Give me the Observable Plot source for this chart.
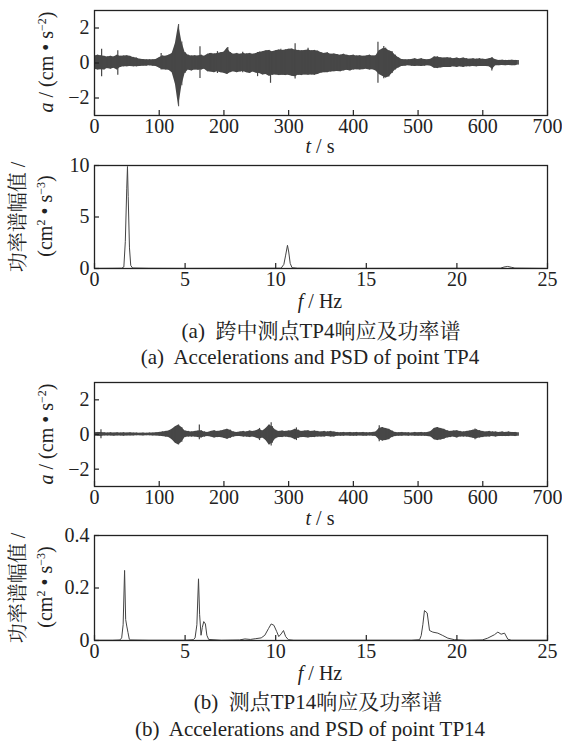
<!DOCTYPE html>
<html><head><meta charset="utf-8">
<script src="https://cdn.jsdelivr.net/npm/d3@7"></script>
<script src="https://cdn.jsdelivr.net/npm/@observablehq/plot@0.6"></script>
<style>
body{margin:0;background:#fff;}
#root{position:relative;width:562px;height:742px;overflow:hidden;font-family:"Liberation Serif","Noto Serif CJK SC","Noto Sans CJK SC",serif;color:#222;}
.lbl{position:absolute;white-space:nowrap;line-height:1;transform:translate(-50%,-50%);font-size:20px;}
.rot{transform:translate(-50%,-50%) rotate(-90deg);}
.cap{font-size:21px;}
i{font-style:italic;}
sup{font-size:0.6em;vertical-align:0;position:relative;top:-0.6em;}
</style></head>
<body><div id="root"></div>
<script>
// ---- data ----
const accTime = [0,5,10,15,20,25,30,35,40,45,50,55,60,65,70,75,80,85,90,95,
100,105,110,115,120,125,130,135,140,145,150,155,160,165,170,175,180,185,190,195,
200,205,210,215,220,225,230,235,240,245,250,255,260,265,270,275,280,285,290,295,
300,305,310,315,320,325,330,335,340,345,350,355,360,365,370,375,380,385,390,395,
400,405,410,415,420,425,430,435,440,445,450,455,460,465,470,475,480,485,490,495,
500,505,510,515,520,525,530,535,540,545,550,555,560,565,570,575,580,585,590,595,
600,605,610,615,620,625,630,635,640,645,650,655];

const tp4Hi = [0.40,0.45,0.42,0.38,0.35,0.38,0.35,0.45,0.38,0.40,
0.42,0.38,0.32,0.28,0.22,0.20,0.18,0.18,0.18,0.20,
0.30,0.40,0.38,0.45,0.55,1.10,2.20,1.20,0.60,0.45,
0.40,0.42,0.40,0.45,0.38,0.50,0.55,0.52,0.55,0.58,
0.62,0.85,0.60,0.50,0.55,0.50,0.55,0.52,0.55,0.50,
0.55,0.62,0.65,0.70,0.72,0.65,0.70,0.75,0.72,0.75,
0.78,0.80,0.75,0.72,0.70,0.72,0.75,0.70,0.72,0.68,
0.60,0.55,0.58,0.50,0.52,0.48,0.45,0.50,0.45,0.42,
0.45,0.40,0.42,0.38,0.40,0.45,0.40,0.42,0.70,0.80,
0.85,0.70,0.65,0.45,0.30,0.20,0.18,0.18,0.20,0.25,
0.20,0.25,0.20,0.18,0.22,0.35,0.35,0.30,0.28,0.30,
0.28,0.25,0.28,0.25,0.28,0.25,0.22,0.25,0.22,0.25,
0.22,0.20,0.25,0.28,0.18,0.15,0.16,0.15,0.15,0.16,
0.15,0.14];
const tp4Lo = [-0.35,-0.40,-0.38,-0.40,-0.32,-0.35,-0.30,-0.40,-0.25,-0.22,
-0.22,-0.20,-0.22,-0.22,-0.20,-0.18,-0.18,-0.16,-0.18,-0.20,
-0.28,-0.38,-0.40,-0.42,-0.55,-1.20,-2.50,-1.30,-0.60,-0.40,
-0.45,-0.40,-0.42,-0.40,-0.35,-0.50,-0.52,-0.55,-0.50,-0.55,
-0.58,-0.65,-0.55,-0.50,-0.55,-0.52,-0.48,-0.55,-0.60,-0.52,
-0.58,-0.60,-0.68,-0.65,-0.75,-0.70,-0.68,-0.72,-0.70,-0.72,
-0.70,-0.75,-0.78,-0.70,-0.72,-0.68,-0.70,-0.68,-0.70,-0.65,
-0.58,-0.55,-0.55,-0.52,-0.50,-0.48,-0.50,-0.45,-0.42,-0.45,
-0.40,-0.38,-0.40,-0.38,-0.35,-0.40,-0.38,-0.45,-0.65,-0.75,
-0.85,-0.80,-0.60,-0.40,-0.28,-0.20,-0.18,-0.15,-0.18,-0.20,
-0.18,-0.20,-0.18,-0.15,-0.18,-0.30,-0.32,-0.28,-0.25,-0.25,
-0.25,-0.22,-0.25,-0.22,-0.25,-0.22,-0.22,-0.20,-0.22,-0.20,
-0.20,-0.20,-0.22,-0.35,-0.15,-0.15,-0.14,-0.15,-0.14,-0.15,
-0.15,-0.12];
const tp4SpikeT  = [11, 36, 103, 163, 178, 190, 206, 229, 252, 272, 288, 310, 330, 438, 447, 614];
const tp4SpikeHi = [0.78, 0.70, 0.55, 0.93, 0.55, 0.65, 0.88, 0.62, 0.60, 0.55, 0.78, 1.10, 0.85, 1.18, 0.95, 0.30];
const tp4SpikeLo = [-0.78, -0.70, -0.40, -0.88, -0.50, -0.60, -0.60, -0.55, -0.78, -1.16, -0.70, -0.92, -0.55, -1.16, -0.90, -0.45];

const tp14Hi = [0.10,0.12,0.12,0.10,0.08,0.10,0.08,0.10,0.08,0.10,
0.08,0.10,0.08,0.08,0.07,0.08,0.07,0.08,0.08,0.10,
0.12,0.15,0.18,0.20,0.30,0.45,0.55,0.40,0.20,0.18,
0.15,0.18,0.20,0.22,0.15,0.12,0.18,0.22,0.18,0.20,
0.25,0.30,0.25,0.15,0.12,0.15,0.18,0.15,0.20,0.18,
0.22,0.30,0.20,0.35,0.55,0.45,0.25,0.18,0.20,0.18,
0.20,0.22,0.30,0.25,0.18,0.20,0.22,0.18,0.20,0.18,
0.15,0.18,0.15,0.18,0.15,0.12,0.10,0.12,0.10,0.12,
0.10,0.12,0.10,0.12,0.10,0.10,0.12,0.15,0.35,0.40,
0.35,0.30,0.20,0.12,0.10,0.12,0.10,0.10,0.08,0.12,
0.10,0.12,0.10,0.12,0.18,0.35,0.40,0.35,0.30,0.22,
0.18,0.20,0.22,0.18,0.15,0.18,0.20,0.25,0.28,0.22,
0.18,0.15,0.18,0.15,0.15,0.12,0.15,0.12,0.15,0.12,
0.12,0.10];
const tp14Lo = [-0.10,-0.10,-0.12,-0.08,-0.08,-0.08,-0.10,-0.08,-0.08,-0.10,
-0.08,-0.08,-0.08,-0.07,-0.07,-0.08,-0.07,-0.07,-0.08,-0.08,
-0.10,-0.12,-0.15,-0.18,-0.30,-0.50,-0.60,-0.45,-0.18,-0.15,
-0.15,-0.15,-0.18,-0.20,-0.15,-0.12,-0.15,-0.20,-0.18,-0.18,
-0.22,-0.28,-0.22,-0.15,-0.12,-0.12,-0.15,-0.15,-0.18,-0.15,
-0.20,-0.28,-0.20,-0.35,-0.60,-0.50,-0.25,-0.18,-0.18,-0.15,
-0.18,-0.20,-0.30,-0.22,-0.18,-0.18,-0.20,-0.18,-0.18,-0.15,
-0.15,-0.15,-0.12,-0.15,-0.15,-0.10,-0.10,-0.10,-0.08,-0.10,
-0.10,-0.10,-0.08,-0.10,-0.10,-0.08,-0.10,-0.12,-0.30,-0.38,
-0.35,-0.30,-0.18,-0.12,-0.10,-0.10,-0.08,-0.10,-0.08,-0.10,
-0.10,-0.10,-0.10,-0.12,-0.15,-0.30,-0.35,-0.32,-0.28,-0.20,
-0.18,-0.15,-0.20,-0.15,-0.15,-0.15,-0.18,-0.22,-0.25,-0.20,
-0.18,-0.15,-0.15,-0.12,-0.15,-0.12,-0.12,-0.12,-0.12,-0.10,
-0.12,-0.10];
const tp14SpikeT  = [10, 162, 255, 273, 312, 440, 588];
const tp14SpikeHi = [0.28, 0.55, 0.35, 0.68, 0.38, 0.50, 0.32];
const tp14SpikeLo = [-0.25, -0.30, -0.35, -0.67, -0.35, -0.42, -0.30];

const psd4F = [0,1.0,1.5,1.62,1.7,1.78,1.82,1.86,1.93,2.0,2.1,3.0,5.0,8.0,10.3,10.45,10.55,10.65,10.72,10.8,10.9,11.2,14.0,18.0,22.4,22.6,22.8,23.0,23.2,25];
const psd4V = [0.01,0.02,0.03,0.15,2.6,7.8,9.9,7.0,2.0,0.3,0.05,0.02,0.01,0.02,0.03,0.4,1.3,2.25,1.6,0.5,0.08,0.03,0.01,0.02,0.03,0.14,0.2,0.12,0.04,0.01];

const psd14F = [0,1.0,1.4,1.5,1.58,1.66,1.72,1.78,1.85,1.92,2.0,3.0,5.0,5.45,5.55,5.65,5.74,5.8,5.88,5.95,
6.03,6.12,6.2,6.3,7.0,8.0,8.3,8.6,8.9,9.2,9.4,9.6,9.75,9.9,10.05,10.17,10.3,10.43,10.55,10.7,
11.0,14.0,17.5,17.94,18.03,18.12,18.21,18.36,18.49,18.67,18.95,19.22,19.5,19.87,20.5,21.4,21.7,22.07,22.26,22.44,
22.63,22.81,23.0,25];
const psd14V = [0.001,0.001,0.002,0.01,0.06,0.267,0.08,0.055,0.03,0.005,0.002,0.001,0.001,0.003,0.01,0.06,0.235,0.1,0.02,0.05,
0.072,0.063,0.02,0.004,0.001,0.002,0.006,0.004,0.007,0.01,0.02,0.045,0.063,0.058,0.035,0.015,0.025,0.038,0.015,0.003,
0.001,0.001,0.001,0.003,0.019,0.06,0.114,0.105,0.038,0.032,0.028,0.019,0.009,0.003,0.001,0.002,0.009,0.022,0.032,0.024,
0.028,0.005,0.001,0.001];

const timeTicks = [0,100,200,300,400,500,600,700];
const freqTicks = [0,5,10,15,20,25];
const accTicks = [-2,0,2];
const psd4Ticks = [0,5,10];
const psd14Ticks = [0,0.2,0.4];

// ---- drawing ----
const root = document.getElementById("root");
const fmt = d => d < 0 ? "\u2212" + Math.abs(d) : String(d);
const ML = 94, MR = 15, W = 562, innerW = W - ML - MR;
const SIG = "#474747", INK = "#222";
const FONT = '"Liberation Serif", serif';

function panel({top, innerH, xDomain, xTicks, yDomain, yTicks, marks}) {
  const mt = 2, mb = 40;
  const svg = Plot.plot({
    width: W, height: mt + innerH + mb,
    marginLeft: ML, marginRight: MR, marginTop: mt, marginBottom: mb,
    style: {fontFamily: FONT, fontSize: "20px", color: INK, background: "transparent", overflow: "visible"},
    x: {domain: xDomain, label: null},
    y: {domain: yDomain, label: null},
    marks: [
      ...marks,
      Plot.tickX(xTicks, {x: d => d, insetTop: innerH - 5, stroke: INK, strokeWidth: 1.2}),
      Plot.tickY(yTicks, {y: d => d, insetRight: innerW - 5, stroke: INK, strokeWidth: 1.2}),
      Plot.frame({stroke: INK, strokeWidth: 1.3}),
      Plot.axisX(xTicks, {tickSize: 0, tickPadding: 3, tickFormat: fmt, label: null, fill: INK, fontFamily: FONT, fontSize: 20}),
      Plot.axisY(yTicks, {tickSize: 0, tickPadding: 5, tickFormat: fmt, label: null, fill: INK, fontFamily: FONT, fontSize: 20})
    ]
  });
  svg.style.position = "absolute";
  svg.style.left = "0px";
  svg.style.top = (top - mt) + "px";
  root.appendChild(svg);
}

function accMarks(hi, lo, sT, sHi, sLo) {
  const rows = accTime.map((t, i) => ({t, hi: hi[i], lo: lo[i]}));
  const spikes = sT.map((t, i) => ({t, hi: sHi[i], lo: sLo[i]}));
  return [
    Plot.areaY(rows, {x: "t", y1: "lo", y2: "hi", fill: SIG}),
    Plot.ruleX(rows, {x: "t", y1: "lo", y2: "hi", stroke: SIG, strokeWidth: 1}),
    Plot.ruleX(spikes, {x: "t", y1: "lo", y2: "hi", stroke: SIG, strokeWidth: 1.2})
  ];
}
function psdMarks(F, V) {
  const rows = F.map((f, i) => ({f, v: V[i]}));
  return [Plot.line(rows, {x: "f", y: "v", stroke: "#444", strokeWidth: 1})];
}

panel({top: 10, innerH: 105, xDomain: [0, 700], xTicks: timeTicks, yDomain: [-3, 3], yTicks: accTicks,
  marks: accMarks(tp4Hi, tp4Lo, tp4SpikeT, tp4SpikeHi, tp4SpikeLo)});
panel({top: 165, innerH: 103, xDomain: [0, 25], xTicks: freqTicks, yDomain: [0, 10], yTicks: psd4Ticks,
  marks: psdMarks(psd4F, psd4V)});
panel({top: 382, innerH: 104, xDomain: [0, 700], xTicks: timeTicks, yDomain: [-3, 3], yTicks: accTicks,
  marks: accMarks(tp14Hi, tp14Lo, tp14SpikeT, tp14SpikeHi, tp14SpikeLo)});
panel({top: 535, innerH: 105, xDomain: [0, 25], xTicks: freqTicks, yDomain: [0, 0.4], yTicks: psd14Ticks,
  marks: psdMarks(psd14F, psd14V)});

// ---- text labels ----
function label(html, x, y, cls) {
  const d = document.createElement("div");
  d.className = "lbl " + (cls || "");
  d.style.left = x + "px";
  d.style.top = y + "px";
  d.innerHTML = html;
  root.appendChild(d);
}
const accLabel = '<i>a</i> / (cm \u2022 s<sup>\u22122</sup>)';
const psdLabel1 = '功率谱幅值 /';
const psdLabel2 = '(cm<sup>2</sup> \u2022 s<sup>\u22123</sup>)';
label(accLabel, 46, 62, "rot");
label('<i>t</i> / s', 320, 146);
label(psdLabel1, 18, 217, "rot");
label(psdLabel2, 45, 216, "rot");
label('<i>f</i> / Hz', 320, 301);
label('(a)&nbsp; 跨中测点TP4响应及功率谱', 321, 331, "cap");
label('(a)&nbsp; Accelerations and PSD of point TP4', 310, 357, "cap");
label(accLabel, 46, 434, "rot");
label('<i>t</i> / s', 320, 518);
label(psdLabel1, 18, 588, "rot");
label(psdLabel2, 45, 587, "rot");
label('<i>f</i> / Hz', 320, 673);
label('(b)&nbsp; 测点TP14响应及功率谱', 318, 702, "cap");
label('(b)&nbsp; Accelerations and PSD of point TP14', 310, 729, "cap");
</script>
</body></html>
